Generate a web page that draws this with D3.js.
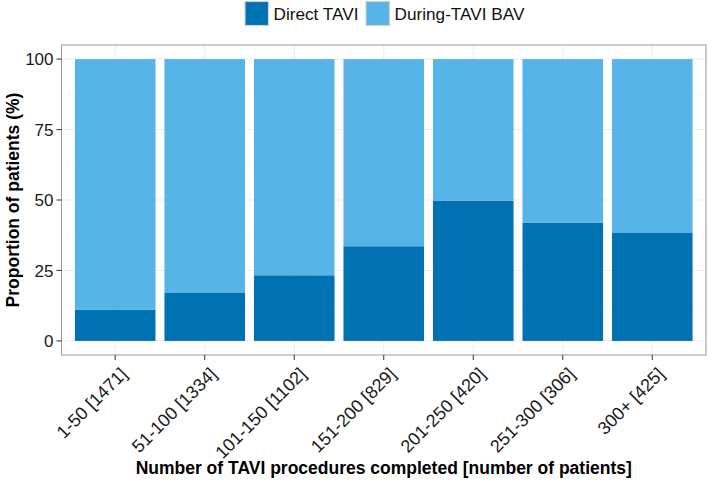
<!DOCTYPE html>
<html><head><meta charset="utf-8">
<script src="https://cdn.jsdelivr.net/npm/d3@7"></script>
<style>body{margin:0;background:#fff;} text{font-family:"Liberation Sans",Arial,sans-serif;}</style>
</head><body><svg id="c" width="709" height="485"></svg>
<script>
const categories = ["1-50 [1471]","51-100 [1334]","101-150 [1102]","151-200 [829]","201-250 [420]","251-300 [306]","300+ [425]"];
const directTAVI = [11, 17, 23.3, 33.6, 49.8, 42, 38.5];
const duringBAV = directTAVI.map(d => 100 - d);
const seriesNames = ["Direct TAVI","During-TAVI BAV"];
const colors = ["#0072B2","#56B4E9"];
const yTicks = [0,25,50,75,100];

const svg = d3.select("#c");
const L = 61.5, R = 706, T = 45, B = 355;
const n = categories.length;
const step = (R - L) / (n + 0.2);
const xc = d3.scalePoint().domain(categories).range([L + 0.6*step, R - 0.6*step]);
const bw = 0.9 * step;
const y = d3.scaleLinear().domain([-5, 105]).range([B, T]);

svg.append("rect").attr("x", L).attr("y", T).attr("width", R-L).attr("height", B-T).attr("fill", "#fff");
const minor = [12.5, 37.5, 62.5, 87.5];
svg.selectAll(".gmin").data(minor).enter().append("line")
  .attr("x1", L).attr("x2", R).attr("y1", d=>y(d)).attr("y2", d=>y(d))
  .attr("stroke", "#F5F5F5").attr("stroke-width", 0.6);
svg.selectAll(".gmaj").data(yTicks).enter().append("line")
  .attr("x1", L).attr("x2", R).attr("y1", d=>y(d)).attr("y2", d=>y(d))
  .attr("stroke", "#EDEDED").attr("stroke-width", 1);
svg.selectAll(".gv").data(categories).enter().append("line")
  .attr("x1", d=>xc(d)).attr("x2", d=>xc(d)).attr("y1", T).attr("y2", B)
  .attr("stroke", "#EDEDED").attr("stroke-width", 1);

const stackData = categories.map((c,i)=>({cat:c, "Direct TAVI":directTAVI[i], "During-TAVI BAV":duringBAV[i]}));
const stack = d3.stack().keys(seriesNames)(stackData);
svg.selectAll(".series").data(stack).enter().append("g")
  .attr("fill", (d,i)=>colors[i])
  .selectAll("rect").data(d=>d).enter().append("rect")
  .attr("x", d=>xc(d.data.cat) - bw/2).attr("width", bw)
  .attr("y", d=>y(d[1])).attr("height", d=>y(d[0]) - y(d[1]));

svg.append("rect").attr("x", L).attr("y", T).attr("width", R-L).attr("height", B-T)
  .attr("fill","none").attr("stroke","#9a9a9a").attr("stroke-width",1);

const ya = svg.append("g");
yTicks.forEach(t=>{
  ya.append("line").attr("x1", L-5).attr("x2", L).attr("y1", y(t)).attr("y2", y(t)).attr("stroke","#333").attr("stroke-width",1);
  ya.append("text").attr("x", L-8).attr("y", y(t)).attr("dy","0.36em").attr("text-anchor","end")
    .attr("font-size", 17).attr("fill","#1a1a1a").text(t);
});
categories.forEach(c=>{
  svg.append("line").attr("x1", xc(c)).attr("x2", xc(c)).attr("y1", B).attr("y2", B+5).attr("stroke","#333");
  svg.append("text").attr("transform", `translate(${xc(c)+4},${B+11}) rotate(-45)`)
    .attr("text-anchor","end").attr("dy","0.72em").attr("font-size", 18).attr("fill","#1a1a1a").text(c);
});
svg.append("text").attr("x", (L+R)/2).attr("y", 474).attr("text-anchor","middle")
  .attr("font-size", 17.5).attr("font-weight","bold").attr("fill","#000")
  .text("Number of TAVI procedures completed [number of patients]");
svg.append("text").attr("transform", `translate(19,${(T+B)/2}) rotate(-90)`).attr("text-anchor","middle")
  .attr("font-size", 17.5).attr("font-weight","bold").attr("fill","#000")
  .text("Proportion of patients (%)");

const legX = [245, 366];
seriesNames.forEach((s,i)=>{
  svg.append("rect").attr("x", legX[i]).attr("y", 1.5).attr("width", 23.5).attr("height", 24)
    .attr("fill", colors[i]).attr("stroke","#cfcfcf").attr("stroke-width",1.2);
  svg.append("text").attr("x", legX[i]+28.5).attr("y", 13.5).attr("dy","0.36em")
    .attr("font-size", 17.2).attr("fill","#111").text(s);
});
</script></body></html>
